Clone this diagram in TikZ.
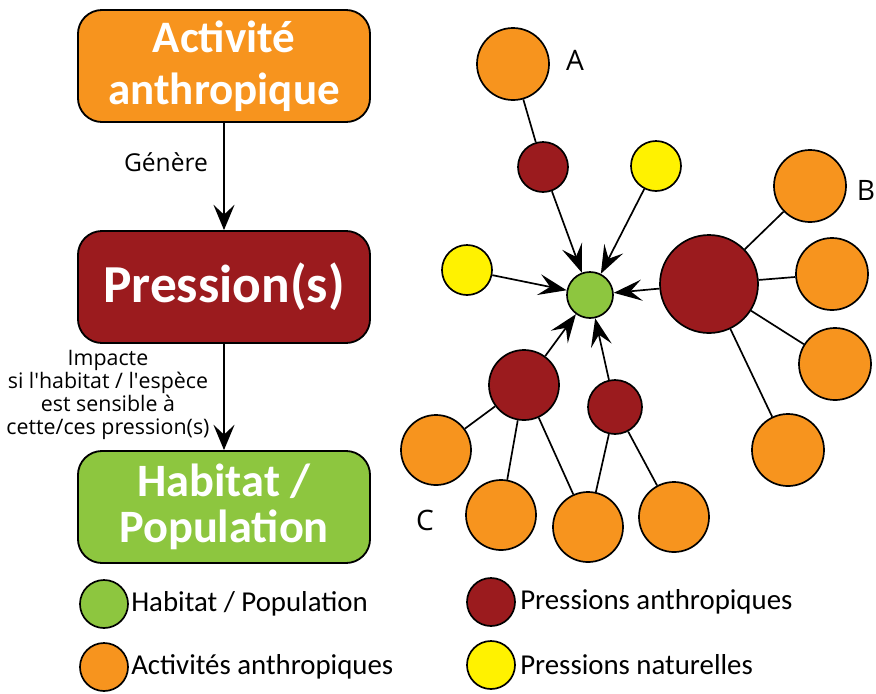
\documentclass[tikz,border=0pt]{standalone}
\usepackage{fontspec}
\setmainfont{Open Sans}
\newfontfamily\calfont{Carlito}
\usetikzlibrary{arrows.meta}

\definecolor{actorange}{RGB}{247,148,30}
\definecolor{pressred}{RGB}{155,27,30}
\definecolor{habgreen}{RGB}{141,198,63}
\definecolor{natyellow}{RGB}{255,242,0}

\tikzset{
  bigbox/.style={draw=black, line width=1.3pt, rounded corners=0.6cm,
    minimum width=7.3cm, minimum height=2.8cm, align=center, text=white,
    inner sep=0pt},
  dot/.style={circle, draw=black, line width=1.2pt, inner sep=0pt},
  act/.style={dot, fill=actorange, minimum size=1.8cm},
  press/.style={dot, fill=pressred},
  nat/.style={dot, fill=natyellow, minimum size=1.25cm},
  hab/.style={dot, fill=habgreen, minimum size=1.15cm},
  legdot/.style={dot, minimum size=1.2cm},
  legtext/.style={anchor=west, inner sep=0pt, font=\calfont\fontsize{20.5}{22}\selectfont},
  flow/.style={line width=1.2pt, -{Stealth[length=18pt, width=15pt, inset=7pt]}},
  link/.style={line width=1.2pt},
  hit/.style={line width=1.2pt, -{Stealth[length=20pt, width=15pt, inset=8pt]}},
  letter/.style={font=\fontsize{20}{22}\selectfont}
}

\begin{document}
\begin{tikzpicture}[x=0.025cm, y=-0.025cm]
  \useasboundingbox (0,0) rectangle (876,693);

  % Left column
  \node[bigbox, fill=actorange, font=\calfont\bfseries\fontsize{32}{37}\selectfont]
    (activite) at (224,66) {Activité\\anthropique};
  \node[bigbox, fill=pressred, font=\calfont\bfseries\fontsize{38}{40}\selectfont]
    (pression) at (224,287) {Pression(s)};
  \node[bigbox, fill=habgreen, font=\calfont\bfseries\fontsize{33}{33}\selectfont]
    (habitat) at (224,507) {Habitat /\\Population};

  \draw[flow] (activite) -- (pression);
  \draw[flow] (pression) -- (habitat);

  \node[font=\fontsize{17.5}{19}\selectfont] (genere) at (166,162) {Génère};
  \node[font=\fontsize{15.2}{16.5}\selectfont, align=center] (impacte) at (108,395)
    {Impacte\\si l\textquotesingle habitat / l\textquotesingle espèce\\est sensible à\\cette/ces pression(s)};

  % Network
  \node[hab] (centre) at (590,295) {};

  \node[act] (a1) at (513,64) {};
  \node[press, minimum size=1.25cm] (pa) at (543,167) {};
  \node[letter] (la) at (575,60) {A};

  \node[nat] (ntop) at (656,166) {};
  \node[nat] (nleft) at (467,270) {};

  \node[press, minimum size=2.45cm] (pb) at (709,284) {};
  \node[act] (b1) at (810,186) {};
  \node[act] (b2) at (832,274) {};
  \node[act] (b3) at (835,364) {};
  \node[act] (b4) at (788,450) {};
  \node[letter] (lb) at (866,190) {B};

  \node[press, minimum size=1.75cm] (pc) at (524,385) {};
  \node[press, minimum size=1.35cm] (pd) at (615,407) {};
  \node[act, minimum size=1.75cm] (c1) at (436,450) {};
  \node[act, minimum size=1.75cm] (c2) at (501,515) {};
  \node[act, minimum size=1.75cm] (c3) at (588,527) {};
  \node[act, minimum size=1.75cm] (c4) at (674,517) {};
  \node[letter] (lc) at (425,520) {C};

  \draw[link] (a1) -- (pa);
  \foreach \b in {b1,b2,b3,b4}
    \draw[link] (pb) -- (\b);
  \foreach \c in {c1,c2,c3}
    \draw[link] (pc) -- (\c);
  \draw[link] (pd) -- (c3);
  \draw[link] (pd) -- (c4);

  \foreach \src in {pa,ntop,nleft,pb,pc,pd}
    \draw[hit] (\src) -- (centre);

  % Legend
  \node[legdot, fill=habgreen] (kgreen) at (104,604) {};
  \node[legtext] (tgreen) at (131,604) {Habitat / Population};
  \node[legdot, fill=actorange] (korange) at (104,667) {};
  \node[legtext] (torange) at (131,667) {Activités anthropiques};
  \node[legdot, fill=pressred] (kred) at (491,602) {};
  \node[legtext] (tred) at (520,602) {Pressions anthropiques};
  \node[legdot, fill=natyellow] (kyellow) at (491,665) {};
  \node[legtext] (tyellow) at (520,665) {Pressions naturelles};
\end{tikzpicture}
\end{document}
